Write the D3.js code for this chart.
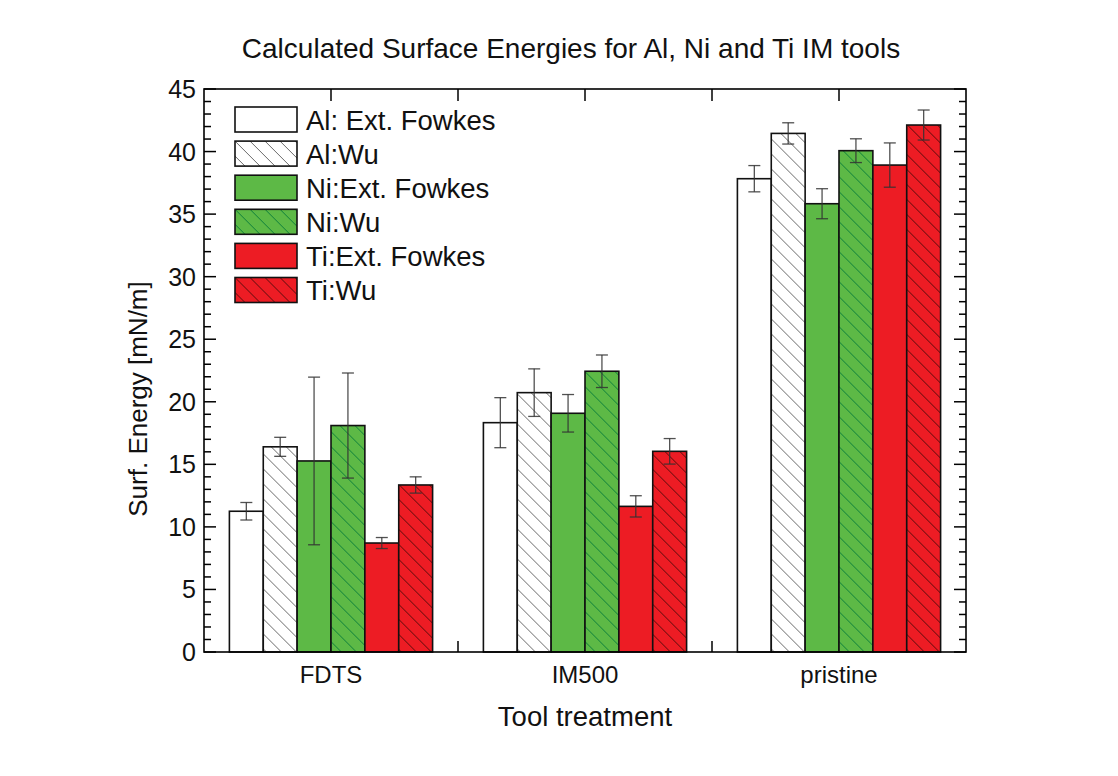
<!DOCTYPE html>
<html>
<head>
<meta charset="utf-8">
<script src="https://cdn.jsdelivr.net/npm/d3@7/dist/d3.min.js"></script>
<style>
  html, body { margin: 0; padding: 0; background: #fff; }
  svg { display: block; font-family: "Liberation Sans", Arial, sans-serif; }
</style>
</head>
<body>
<svg id="chart" width="1118" height="776"></svg>
<script>
// Tool treatments on the x axis
const categories = ["FDTS", "IM500", "pristine"];

// Series names (legend order)
const seriesNames = ["Al: Ext. Fowkes", "Al:Wu", "Ni:Ext. Fowkes", "Ni:Wu", "Ti:Ext. Fowkes", "Ti:Wu"];

// Surface energies [mN/m] per treatment, one array per series
const alExtFowkes = [11.25, 18.33, 37.83];
const alWu        = [16.40, 20.73, 41.45];
const niExtFowkes = [15.27, 19.08, 35.83];
const niWu        = [18.10, 22.44, 40.07];
const tiExtFowkes = [8.71, 11.64, 38.92];
const tiWu        = [13.35, 16.04, 42.12];

// Error bar half-widths [mN/m]
const alExtFowkesErr = [0.70, 2.00, 1.05];
const alWuErr        = [0.76, 1.90, 0.85];
const niExtFowkesErr = [6.70, 1.50, 1.20];
const niWuErr        = [4.20, 1.30, 0.95];
const tiExtFowkesErr = [0.44, 0.85, 1.77];
const tiWuErr        = [0.65, 1.02, 1.20];

// Y axis tick labels
const yTicks = [0, 5, 10, 15, 20, 25, 30, 35, 40, 45];

const values = [alExtFowkes, alWu, niExtFowkes, niWu, tiExtFowkes, tiWu];
const errors = [alExtFowkesErr, alWuErr, niExtFowkesErr, niWuErr, tiExtFowkesErr, tiWuErr];

// Visual style per series
const styles = [
  { fill: "#ffffff", hatch: null },
  { fill: "#ffffff", hatch: "#6a6a6a" },
  { fill: "#5db946", hatch: null },
  { fill: "#5db946", hatch: "#0d7f3a" },
  { fill: "#ed1c24", hatch: null },
  { fill: "#ed1c24", hatch: "#5a0b0b" }
];

const svg = d3.select("#chart");
const plot = { left: 204, right: 966, top: 89, bottom: 652 };

const x = d3.scaleBand().domain(categories)
  .range([plot.left, plot.right]).paddingInner(0.2).paddingOuter(0.1);
const xInner = d3.scaleBand().domain(seriesNames).range([0, x.bandwidth()]).padding(0);
const y = d3.scaleLinear().domain([0, 45]).range([plot.bottom, plot.top]);

// Hatch patterns ("\" diagonals)
const defs = svg.append("defs");
styles.forEach((s, i) => {
  if (!s.hatch) return;
  const p = defs.append("pattern")
    .attr("id", "hatch" + i)
    .attr("patternUnits", "userSpaceOnUse")
    .attr("width", 15).attr("height", 15);
  p.append("rect").attr("width", 15).attr("height", 15).attr("fill", s.fill);
  p.append("path")
    .attr("d", "M-4,-4 L19,19 M-4,11 L4,19 M11,-4 L19,4")
    .attr("stroke", s.hatch).attr("stroke-width", 1);
});

// Title
svg.append("text")
  .attr("x", 571).attr("y", 58)
  .attr("text-anchor", "middle")
  .attr("font-size", 28)
  .attr("fill", "#111")
  .text("Calculated Surface Energies for Al, Ni and Ti IM tools");

// Axis ticks (inward) on all four sides
const axisG = svg.append("g").attr("stroke", "#000").attr("stroke-width", 1.5);
const minorTicks = d3.range(0, 46, 1);
minorTicks.forEach(v => {
  const major = v % 5 === 0;
  const len = major ? 12 : 7;
  axisG.append("line").attr("x1", plot.left).attr("x2", plot.left + len)
    .attr("y1", y(v)).attr("y2", y(v));
  axisG.append("line").attr("x1", plot.right).attr("x2", plot.right - len)
    .attr("y1", y(v)).attr("y2", y(v));
});
// X ticks at group centres and midway between groups
const xTickPos = [];
categories.forEach((c, i) => {
  xTickPos.push(x(c) + x.bandwidth() / 2);
  if (i < categories.length - 1) xTickPos.push(x(c) + x.bandwidth() / 2 + x.step() / 2);
});
xTickPos.forEach(px => {
  axisG.append("line").attr("x1", px).attr("x2", px).attr("y1", plot.top).attr("y2", plot.top + 12);
  axisG.append("line").attr("x1", px).attr("x2", px).attr("y1", plot.bottom).attr("y2", plot.bottom - 11);
});

// Bars
const groups = svg.append("g").selectAll("g")
  .data(categories).join("g")
  .attr("transform", c => `translate(${x(c)},0)`);

groups.each(function (c, ci) {
  const g = d3.select(this);
  seriesNames.forEach((s, si) => {
    const v = values[si][ci];
    g.append("rect")
      .attr("x", xInner(s))
      .attr("y", y(v))
      .attr("width", xInner.bandwidth())
      .attr("height", y(0) - y(v))
      .attr("fill", styles[si].hatch ? `url(#hatch${si})` : styles[si].fill)
      .attr("stroke", "#111")
      .attr("stroke-width", 1.6);
  });
  seriesNames.forEach((s, si) => {
    const v = values[si][ci], e = errors[si][ci];
    const cx = xInner(s) + xInner.bandwidth() / 2;
    const eg = g.append("g").attr("stroke", "#333").attr("stroke-opacity", 0.85).attr("stroke-width", 1.3);
    eg.append("line").attr("x1", cx).attr("x2", cx).attr("y1", y(v + e)).attr("y2", y(v - e));
    eg.append("line").attr("x1", cx - 6).attr("x2", cx + 6).attr("y1", y(v + e)).attr("y2", y(v + e));
    eg.append("line").attr("x1", cx - 6).attr("x2", cx + 6).attr("y1", y(v - e)).attr("y2", y(v - e));
  });
});

// Frame
svg.append("rect")
  .attr("x", plot.left).attr("y", plot.top)
  .attr("width", plot.right - plot.left).attr("height", plot.bottom - plot.top)
  .attr("fill", "none").attr("stroke", "#000").attr("stroke-width", 1.6);

// Y tick labels
svg.append("g").selectAll("text").data(yTicks).join("text")
  .attr("x", plot.left - 8).attr("y", v => y(v) + 9)
  .attr("text-anchor", "end").attr("font-size", 25).attr("fill", "#111")
  .text(d => d);

// X tick labels
svg.append("g").selectAll("text").data(categories).join("text")
  .attr("x", c => x(c) + x.bandwidth() / 2).attr("y", 683)
  .attr("text-anchor", "middle").attr("font-size", 24).attr("fill", "#111")
  .text(d => d);

// Axis titles
svg.append("text")
  .attr("x", 585).attr("y", 726)
  .attr("text-anchor", "middle").attr("font-size", 27.5).attr("fill", "#111")
  .text("Tool treatment");
svg.append("text")
  .attr("transform", "translate(147,399) rotate(-90)")
  .attr("text-anchor", "middle").attr("font-size", 26).attr("fill", "#111")
  .text("Surf. Energy [mN/m]");

// Legend
const legend = svg.append("g").attr("transform", "translate(235,107)");
seriesNames.forEach((s, si) => {
  const row = legend.append("g").attr("transform", `translate(0,${si * 34.1})`);
  row.append("rect").attr("width", 62).attr("height", 25)
    .attr("fill", styles[si].hatch ? `url(#hatch${si})` : styles[si].fill)
    .attr("stroke", "#111").attr("stroke-width", 1.6);
  row.append("text").attr("x", 71).attr("y", 22.5)
    .attr("font-size", 27.5).attr("fill", "#111").text(s);
});
</script>
</body>
</html>
